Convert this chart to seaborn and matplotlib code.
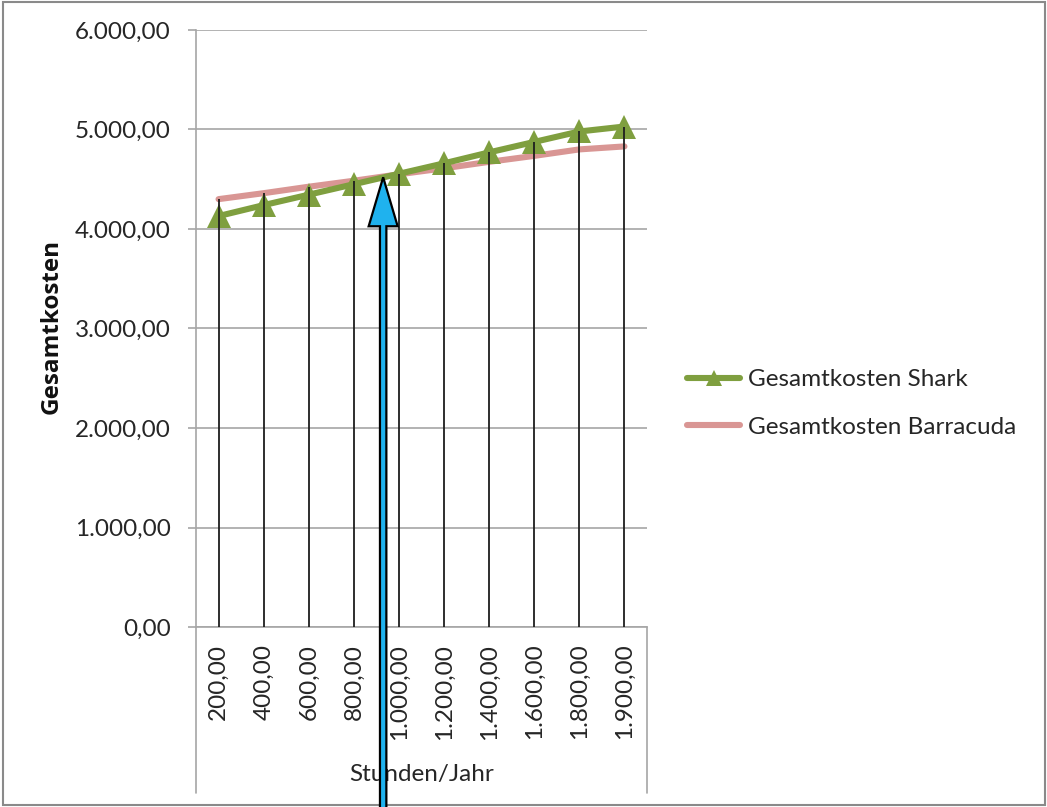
import numpy as np
import pandas as pd
import matplotlib
matplotlib.use("Agg")
import matplotlib.pyplot as plt
import seaborn as sns
from matplotlib.patches import Polygon, Rectangle
from matplotlib.transforms import IdentityTransform
from matplotlib.lines import Line2D

# Operating hours per year and total costs of both machines
hours = [200, 400, 600, 800, 1000, 1200, 1400, 1600, 1800, 1900]
shark = [4130, 4240, 4345, 4450, 4555, 4660, 4770, 4875, 4980, 5030]
barracuda = [4300, 4360, 4425, 4485, 4550, 4610, 4675, 4735, 4800, 4830]
y_ticks = [0, 1000, 2000, 3000, 4000, 5000, 6000]
series_names = ["Gesamtkosten Shark", "Gesamtkosten Barracuda"]
x_title = "Stunden/Jahr"
y_title = "Gesamtkosten"

# point the arrow marks (category position, cost)
arrow_tip = (3.65, 4520)


def de_num(v):
    s = f"{v:,.2f}"
    return s.replace(",", "X").replace(".", ",").replace("X", ".")


sns.set_theme(style="white")
plt.rcParams["font.family"] = ["Lato", "DejaVu Sans"]

GREEN = "#7F9F3F"
PINK = "#D99694"
GRID = "#A6A6A6"
TEXT = "#262626"
FS = 17.5

W, H = 1047, 807
fig = plt.figure(figsize=(W / 100, H / 100), dpi=100)
fig.patch.set_facecolor("white")
ax = fig.add_axes([196 / W, 1 - 627 / H, (647 - 196) / W, (627 - 30) / H])

pos = np.arange(len(hours))
df = pd.DataFrame({"pos": pos, "shark": shark, "barracuda": barracuda})

sns.lineplot(data=df, x="pos", y="barracuda", ax=ax, color=PINK, lw=4.4,
             zorder=3, legend=False)
sns.lineplot(data=df, x="pos", y="shark", ax=ax, color=GREEN, lw=4.4,
             marker="^", markersize=17, markeredgewidth=0, zorder=4,
             legend=False)

# drop lines from the higher of both series down to the axis
ax.vlines(pos, 0, np.maximum(shark, barracuda), color="#1e1e1e", lw=1.3,
          zorder=5)

ax.set_xlim(-0.5, len(hours) - 0.5)
ax.set_ylim(0, 6000)
ax.set_yticks(y_ticks, [de_num(v) for v in y_ticks])
ax.set_xticks(pos, [de_num(h) for h in hours], rotation=90)
ax.set_xlabel("")
ax.set_ylabel("")
ax.yaxis.grid(True, color=GRID, lw=1.2)
ax.xaxis.grid(False)

ax.tick_params(axis="y", length=6, width=1.2, color=GRID, pad=12,
               labelsize=FS, labelcolor=TEXT, left=True)
ax.tick_params(axis="x", length=0, pad=12, labelsize=FS, labelcolor=TEXT)
for lab in ax.get_xticklabels():
    lab.set_va("top")

for side in ("top", "right"):
    ax.spines[side].set_visible(False)
for side in ("left", "bottom"):
    ax.spines[side].set_color(GRID)
    ax.spines[side].set_linewidth(1.2)

# box lines of the category label area
box_depth = -(793 - 627) / (627 - 30)
for xa in (0, 1):
    ax.add_line(Line2D([xa, xa], [0, box_depth], transform=ax.transAxes,
                       color=GRID, lw=1.2, clip_on=False))

fig.text(52 / W, 1 - 326 / H, y_title, rotation=90, ha="center", va="center",
         fontsize=17.5, fontweight="bold", color="#111111",
         family=["Open Sans", "DejaVu Sans"])
fig.text(422 / W, 1 - 775 / H, x_title, ha="center", va="center",
         fontsize=FS, color=TEXT)

handles = [Line2D([], [], color=GREEN, lw=4.4, marker="^", markersize=12,
                  markeredgewidth=0),
           Line2D([], [], color=PINK, lw=4.4)]
fig.legend(handles, series_names, loc="upper left",
           bbox_to_anchor=(687 / W, 1 - 369 / H), frameon=False, borderpad=0,
           borderaxespad=0, handlelength=2.2, handletextpad=0.3,
           labelspacing=1.1, fontsize=FS, labelcolor=TEXT)

# outer chart border
fig.add_artist(Rectangle((3 / W, 1 - 805 / H), (1045 - 3) / W, (805 - 2) / H,
                         transform=fig.transFigure, fill=False,
                         edgecolor="#8a8a8a", lw=1.5))

# blue arrow pointing at the crossing of both cost lines
tx, ty = ax.transData.transform(arrow_tip)
head_h, head_w, shaft_w = 49, 14.5, 3.2
arrow = Polygon([(tx, ty), (tx + head_w, ty - head_h), (tx + shaft_w, ty - head_h),
                 (tx + shaft_w, -20), (tx - shaft_w, -20),
                 (tx - shaft_w, ty - head_h), (tx - head_w, ty - head_h)],
                closed=True, transform=IdentityTransform(), facecolor="#1FB2EE",
                edgecolor="black", lw=1.6, zorder=10, clip_on=False)
fig.add_artist(arrow)

fig.savefig("out.png", dpi=100, facecolor="white")
